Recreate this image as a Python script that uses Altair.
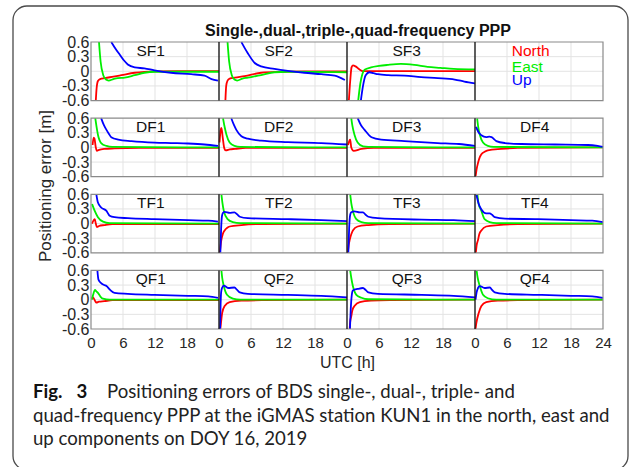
import altair as alt
import pandas as pd

# ---------------------------------------------------------------- text
TITLE = "Single-,dual-,triple-,quad-frequency PPP"
Y_TITLE = "Positioning error [m]"
X_TITLE = "UTC [h]"
CAPTION_BOLD = "Fig.\u20033"
CAPTION_LINES = [
    "Positioning errors of BDS single-, dual-, triple- and",
    "quad-frequency PPP at the iGMAS station KUN1 in the north, east and",
    "up components on DOY 16, 2019",
]

COMPONENTS = ["North", "East", "Up"]
COLORS = ["#ff0000", "#00ee00", "#0000ff"]
ROW_NAMES = ["SF", "DF", "TF", "QF"]
Y_TICKS = [-0.6, -0.3, 0, 0.3, 0.6]
X_TICKS = list(range(0, 97, 6))
ROW_PITCH = 1.56  # vertical distance between stacked rows on the shared y scale

# ---------------------------------------------------------------- series
# (hour of day, error in m) samples, North / East / Up for each solution
SF1_N = [(0.9, -0.6), (1.05, -0.35), (1.3, -0.2), (1.7, -0.16), (2.6, -0.14), (4.2, -0.11),
         (5.7, -0.08), (8.2, -0.03), (10, -0.01), (12, 0.0), (18, 0.005), (24, 0.005)]
SF1_E = [(1.5, 0.6), (1.8, 0.2), (2.3, -0.08), (2.8, -0.17), (3.3, -0.19), (4.2, -0.16), (5, -0.14),
         (6.3, -0.13), (8.2, -0.08), (10, -0.03), (12, -0.01), (16, -0.01), (24, -0.01)]
SF1_U = [(3.8, 0.6), (4.6, 0.46), (5.4, 0.34), (6.2, 0.22), (6.9, 0.14), (8.2, 0.08), (10, 0.06),
         (11.9, 0.02), (15, -0.03), (18.8, -0.06), (21.3, -0.09), (22.6, -0.16), (23.8, -0.19)]

SF2_N = [(1.2, -0.6), (1.35, -0.3), (1.6, -0.19), (2, -0.15), (3, -0.13), (4.8, -0.1), (7.9, -0.03),
         (11.7, -0.01), (16, 0.0), (24, 0.0)]
SF2_E = [(1.6, 0.6), (1.9, 0.2), (2.4, -0.08), (2.9, -0.17), (3.4, -0.19), (4.4, -0.15), (5.4, -0.13),
         (7.9, -0.08), (10.4, -0.02), (12.9, -0.01), (24, -0.02)]
SF2_U = [(4.2, 0.6), (4.8, 0.48), (5.4, 0.37), (6.7, 0.17), (7.9, 0.1), (10.4, 0.05), (12.9, 0.01),
         (16, -0.03), (19.2, -0.06), (21.7, -0.09), (23.6, -0.18)]

SF3_N = [(0.35, -0.6), (0.6, -0.2), (0.85, 0.08), (1.1, 0.12), (1.6, 0.1), (2.3, 0.04), (3, 0.005),
         (24, 0.005)]
SF3_E = [(2.1, -0.6), (2.5, -0.25), (2.9, -0.05), (3.3, 0.03), (4.5, 0.08), (6, 0.11), (7.6, 0.13),
         (10.1, 0.15), (12.6, 0.13), (15.1, 0.09), (17.5, 0.07), (20, 0.05), (24, 0.04)]
SF3_U = [(2.6, -0.6), (3, -0.3), (3.5, -0.08), (4.2, -0.02), (5, -0.04), (5.8, -0.06), (7.7, -0.08),
         (10.8, -0.09), (13.9, -0.12), (17, -0.14), (20.2, -0.17), (22, -0.21), (24, -0.25)]

DF1_N = [(0.3, 0.05), (0.5, 0.2), (0.65, 0.18), (0.9, 0.0), (1.1, -0.07), (1.5, -0.05), (2.5, -0.03),
         (4.4, -0.02), (9, -0.01), (24, -0.01)]
DF1_E = [(0.8, 0.6), (1.0, 0.45), (1.3, 0.26), (1.9, 0.09), (2.9, 0.03), (4, 0.01), (24, 0.0)]
DF1_U = [(1.9, 0.6), (2.4, 0.46), (2.9, 0.36), (3.4, 0.27), (3.8, 0.21), (5.1, 0.16), (7.6, 0.13),
         (11.9, 0.1), (15, 0.09), (18.2, 0.08), (21.3, 0.06), (23.8, 0.03)]

DF2_N = [(0.1, 0.1), (0.3, 0.35), (0.45, 0.4), (0.7, 0.2), (1.0, -0.02), (1.25, -0.06), (2, -0.04),
         (3, -0.03), (5, -0.01), (24, -0.01)]
DF2_E = [(0.75, 0.6), (1.0, 0.45), (1.4, 0.26), (2, 0.1), (2.9, 0.03), (4, 0.01), (24, 0.0)]
DF2_U = [(2.3, 0.6), (2.8, 0.46), (3.25, 0.36), (4.2, 0.23), (5.4, 0.18), (7.9, 0.14), (12.9, 0.11),
         (19.2, 0.09), (24, 0.06)]

DF3_N = [(0.2, 0.05), (0.45, 0.14), (0.6, 0.16), (0.8, 0.0), (1.25, -0.07), (2.7, -0.03), (5, -0.01),
         (24, -0.01)]
DF3_E = [(0.8, 0.6), (1.0, 0.45), (1.4, 0.26), (2, 0.1), (3, 0.02), (4, 0.01), (24, 0.0)]
DF3_U = [(2.0, 0.6), (2.6, 0.46), (3.3, 0.36), (4.6, 0.21), (6.4, 0.16), (10.8, 0.13), (17, 0.09),
         (21, 0.07), (24, 0.03)]

DF4_N = [(0.1, -0.6), (0.3, -0.45), (0.56, -0.32), (0.9, -0.2), (1.2, -0.14), (1.8, -0.09), (2.4, -0.06),
         (4.9, -0.03), (8, -0.01), (24, 0.0)]
DF4_E = [(0.4, 0.6), (0.6, 0.42), (0.9, 0.26), (1.5, 0.1), (2.4, 0.03), (3.5, 0.01), (24, 0.0)]
DF4_U = [(0.2, 0.42), (0.6, 0.32), (1.2, 0.25), (2.1, 0.21), (2.7, 0.22), (3.1, 0.21), (4.0, 0.13),
         (5.6, 0.09), (8.7, 0.07), (15, 0.06), (21.2, 0.05), (23, 0.03), (24, 0.01)]

TF1_N = [(0.2, 0.0), (0.45, 0.06), (0.7, 0.09), (0.9, 0.0), (1.1, -0.07), (1.5, -0.05), (2.5, -0.03),
         (4, -0.01), (24, -0.01)]
TF1_E = [(0.2, 0.4), (0.7, 0.26), (1.3, 0.13), (2.25, 0.04), (3.5, 0.01), (24, 0.0)]
TF1_U = [(1.0, 0.6), (1.3, 0.43), (1.9, 0.33), (2.9, 0.26), (3.5, 0.16), (4.4, 0.13), (6.9, 0.11),
         (11.9, 0.09), (18.2, 0.07), (22, 0.06), (23.8, 0.04)]

TF2_N = [(0.15, -0.6), (0.3, -0.45), (0.44, -0.34), (0.7, -0.22), (1.06, -0.14), (1.5, -0.09), (2, -0.06),
         (4.2, -0.03), (7.8, -0.01), (24, 0.0)]
TF2_E = [(0.45, 0.6), (0.65, 0.42), (0.9, 0.26), (1.6, 0.09), (2.6, 0.03), (4, 0.01), (24, 0.0)]
TF2_U = [(0.25, -0.6), (0.4, -0.1), (0.55, 0.15), (0.75, 0.22), (1.06, 0.24), (2, 0.22), (2.9, 0.23),
         (3.4, 0.19), (3.9, 0.14), (5.4, 0.11), (12.9, 0.09), (19.2, 0.07), (24, 0.05)]

TF3_N = [(0.15, -0.6), (0.3, -0.45), (0.5, -0.34), (0.8, -0.22), (1.1, -0.14), (2, -0.06), (4, -0.03),
         (8, -0.01), (24, 0.0)]
TF3_E = [(0.6, 0.6), (0.8, 0.42), (1.1, 0.26), (1.75, 0.09), (2.7, 0.03), (4, 0.01), (24, 0.0)]
TF3_U = [(0.25, -0.6), (0.4, -0.1), (0.6, 0.18), (0.8, 0.23), (1.4, 0.25), (2.4, 0.23), (3.0, 0.23),
         (3.5, 0.18), (4.0, 0.14), (5.8, 0.11), (14, 0.08), (20, 0.07), (24, 0.05)]

TF4_N = [(0.15, -0.6), (0.3, -0.45), (0.56, -0.34), (0.8, -0.22), (1.2, -0.14), (2.1, -0.06), (4.3, -0.03),
         (8, -0.01), (24, 0.0)]
TF4_E = [(0.45, 0.6), (0.65, 0.42), (1.2, 0.26), (1.8, 0.09), (2.75, 0.03), (4, 0.01), (24, 0.0)]
TF4_U = [(0.25, 0.6), (0.7, 0.4), (1.2, 0.29), (2.1, 0.21), (2.75, 0.21), (3.2, 0.18), (3.7, 0.13),
         (5.6, 0.1), (11.8, 0.09), (18, 0.07), (22, 0.06), (24, 0.03)]

QF1_N = [(0.15, 0.02), (0.3, 0.05), (0.5, 0.03), (0.8, -0.03), (1.0, -0.06), (1.5, -0.04), (2.5, -0.03),
         (4, -0.01), (24, -0.01)]
QF1_E = [(0.15, 0.0), (0.4, 0.1), (0.75, 0.2), (1.0, 0.17), (1.3, 0.14), (1.8, 0.06), (2.25, 0.02),
         (3.5, 0.0), (24, 0.0)]
QF1_U = [(1.2, 0.6), (1.4, 0.41), (1.9, 0.34), (2.5, 0.3), (2.9, 0.28), (3.5, 0.21), (4.4, 0.14),
         (6.9, 0.12), (11.9, 0.1), (18.2, 0.08), (22, 0.07), (23.8, 0.04)]

QF2_N = [(0.25, -0.6), (0.35, -0.5), (0.6, -0.27), (1.06, -0.13), (2, -0.05), (4.2, -0.02), (8, -0.01),
         (24, 0.0)]
QF2_E = [(0.45, 0.6), (0.6, 0.45), (0.9, 0.28), (1.5, 0.1), (2.6, 0.02), (4, 0.0), (24, 0.0)]
QF2_U = [(0.2, -0.6), (0.3, -0.1), (0.4, 0.15), (0.56, 0.24), (0.9, 0.29), (1.7, 0.24), (2.9, 0.25),
         (3.4, 0.2), (3.9, 0.15), (5.4, 0.12), (12.9, 0.1), (19.2, 0.08), (24, 0.05)]

QF3_N = [(0.5, -0.6), (0.6, -0.45), (0.8, -0.34), (1.0, -0.22), (1.4, -0.13), (2.4, -0.05), (4.5, -0.02),
         (8, -0.01), (24, 0.0)]
QF3_E = [(0.6, 0.6), (0.8, 0.45), (1.1, 0.28), (1.75, 0.1), (2.7, 0.04), (4, 0.01), (24, 0.0)]
QF3_U = [(0.55, -0.6), (0.7, -0.2), (0.9, 0.1), (1.1, 0.19), (2, 0.22), (3, 0.24), (3.5, 0.2), (4, 0.15),
         (5.8, 0.12), (14, 0.1), (20, 0.08), (24, 0.05)]

QF4_N = [(0.1, -0.6), (0.25, -0.48), (0.7, -0.27), (1.2, -0.13), (2.1, -0.05), (4.3, -0.02), (8, -0.01),
         (24, 0.0)]
QF4_E = [(0.3, 0.6), (0.5, 0.45), (0.9, 0.28), (1.5, 0.1), (2.4, 0.03), (4, 0.0), (24, 0.0)]
QF4_U = [(0.1, 0.0), (0.3, 0.15), (0.56, 0.24), (0.9, 0.28), (1.8, 0.24), (2.8, 0.25), (3.2, 0.2),
         (3.7, 0.15), (5.6, 0.12), (11.8, 0.1), (18, 0.08), (22, 0.07), (24, 0.04)]

PANELS = {
    "SF1": (SF1_N, SF1_E, SF1_U), "SF2": (SF2_N, SF2_E, SF2_U), "SF3": (SF3_N, SF3_E, SF3_U),
    "DF1": (DF1_N, DF1_E, DF1_U), "DF2": (DF2_N, DF2_E, DF2_U),
    "DF3": (DF3_N, DF3_E, DF3_U), "DF4": (DF4_N, DF4_E, DF4_U),
    "TF1": (TF1_N, TF1_E, TF1_U), "TF2": (TF2_N, TF2_E, TF2_U),
    "TF3": (TF3_N, TF3_E, TF3_U), "TF4": (TF4_N, TF4_E, TF4_U),
    "QF1": (QF1_N, QF1_E, QF1_U), "QF2": (QF2_N, QF2_E, QF2_U),
    "QF3": (QF3_N, QF3_E, QF3_U), "QF4": (QF4_N, QF4_E, QF4_U),
}

LABEL_HOUR = 11.2      # where each panel name sits within its 24 h block
LABEL_LEVEL = 0.42
LEGEND_HOUR = 78.9
LEGEND_LEVELS = [0.42, 0.08, -0.18]


def row_offset(r):
    return round((3 - r) * ROW_PITCH, 3)


def place(name):
    return ROW_NAMES.index(name[:2]), int(name[2:]) - 1


# ---------------------------------------------------------------- tables
line_rows = []
for ci, comp in enumerate(COMPONENTS):
    for name, series in PANELS.items():
        r, c = place(name)
        for i, (t, v) in enumerate(series[ci]):
            line_rows.append({"panel": name, "comp": comp, "x": t + 24 * c,
                              "y": v + row_offset(r), "order": i})
lines_df = pd.DataFrame(line_rows)

hgrid, vgrid, seps, boxes = [], [], [], []
for r in range(4):
    off = row_offset(r)
    for k in Y_TICKS[1:-1]:
        hgrid.append({"x": 0, "x2": 96, "y": off + k})
    for t in X_TICKS:
        if t % 24 != 0:
            vgrid.append({"x": t, "y": off - 0.6, "y2": off + 0.6})
    for t in (24, 48, 72):
        seps.append({"x": t, "y": off - 0.6, "y2": off + 0.6})
    boxes.append({"x": 0, "x2": 96, "y": off - 0.6, "y2": off + 0.6})

labels_df = pd.DataFrame([
    {"x": LABEL_HOUR + 24 * place(n)[1], "y": LABEL_LEVEL + row_offset(place(n)[0]), "text": n}
    for n in PANELS
])
legend_df = pd.DataFrame([
    {"x": LEGEND_HOUR, "y": lv + row_offset(0), "comp": comp, "text": comp}
    for comp, lv in zip(COMPONENTS, LEGEND_LEVELS)
])

Y_MIN = -0.6
Y_MAX = round(row_offset(0) + 0.6, 3)
Y_AXIS_VALUES = [min(max(round(k + row_offset(r), 3), Y_MIN), Y_MAX)
                 for r in range(4) for k in Y_TICKS]
LOCAL = f"(datum.value - {ROW_PITCH}*round(datum.value/{ROW_PITCH}))"
Y_LABEL_EXPR = (f"abs({LOCAL}) < 0.01 ? '0' : (({LOCAL}) < 0 ? '-' : '') + "
                f"toString(round(abs({LOCAL})*10)/10)")
X_LABEL_EXPR = "datum.value == 96 ? '24' : toString(datum.value % 24)"

FONT = "Liberation Sans"
INK = "#262626"

x_enc = alt.X("x:Q", scale=alt.Scale(domain=[0, 96], nice=False, zero=False),
              axis=alt.Axis(values=X_TICKS, labelExpr=X_LABEL_EXPR, title=X_TITLE,
                            grid=False, domain=False, ticks=False, labelFlush=False,
                            labelOverlap=False, labelFont=FONT, labelFontSize=15,
                            labelColor=INK, labelPadding=6, titleFont=FONT,
                            titleFontSize=16, titleFontWeight="normal", titleColor=INK,
                            titlePadding=4))
y_enc = alt.Y("y:Q", scale=alt.Scale(domain=[Y_MIN, Y_MAX], nice=False, zero=False),
              axis=alt.Axis(values=Y_AXIS_VALUES, labelExpr=Y_LABEL_EXPR, title=Y_TITLE,
                            grid=False, domain=False, ticks=False, labelFlush=False,
                            labelOverlap=False, labelFont=FONT, labelFontSize=16,
                            labelColor=INK, labelPadding=2, titleFont=FONT,
                            titleFontSize=17, titleFontWeight="normal", titleColor=INK,
                            titleAngle=270, titleX=-41, titleY=143.5,
                            titleAlign="center", titleBaseline="alphabetic"))
color_enc = alt.Color("comp:N", scale=alt.Scale(domain=COMPONENTS, range=COLORS), legend=None)

grid_h = alt.Chart(pd.DataFrame(hgrid)).mark_rule(color="#e3e3e3", strokeWidth=1).encode(
    x=x_enc, x2="x2:Q", y=y_enc)
grid_v = alt.Chart(pd.DataFrame(vgrid)).mark_rule(color="#e3e3e3", strokeWidth=1).encode(
    x=x_enc, y=y_enc, y2="y2:Q")
frames = alt.Chart(pd.DataFrame(boxes)).mark_rect(
    fillOpacity=0, stroke="#8a8a8a", strokeWidth=1.2).encode(
    x=x_enc, x2="x2:Q", y=y_enc, y2="y2:Q")
dividers = alt.Chart(pd.DataFrame(seps)).mark_rule(color="#1a1a1a", strokeWidth=1.4).encode(
    x=x_enc, y=y_enc, y2="y2:Q")

curves = alt.Chart(lines_df).mark_line(strokeWidth=1.8, interpolate="monotone").encode(
    x=x_enc, y=y_enc, color=color_enc, detail="panel:N", order="order:Q")

panel_names = alt.Chart(labels_df).mark_text(
    font=FONT, fontSize=15.5, color="#111111", baseline="middle", align="center").encode(
    x=x_enc, y=y_enc, text="text:N")
legend_text = alt.Chart(legend_df).mark_text(
    font=FONT, fontSize=15.5, baseline="middle", align="left").encode(
    x=x_enc, y=y_enc, text="text:N", color=color_enc)

one = pd.DataFrame([{"k": 0}])
heading = alt.Chart(one).mark_text(
    text=TITLE, font=FONT, fontSize=16, fontWeight="bold", color="#111111",
    align="center", baseline="alphabetic").encode(x=alt.value(267), y=alt.value(-6))

outline = alt.Chart(one).mark_rect(
    fillOpacity=0, stroke="#4a4a4a", strokeWidth=1.3, cornerRadius=14).encode(
    x=alt.value(-78), x2=alt.value(537), y=alt.value(-36), y2=alt.value(428))

CAP_FONT = "Lato"
CAP_SIZE = 18.6
cap_bold = alt.Chart(one).mark_text(
    text=CAPTION_BOLD, font=CAP_FONT, fontSize=CAP_SIZE, fontWeight="bold", color="#111111",
    align="left", baseline="alphabetic").encode(x=alt.value(-58), y=alt.value(356))
cap_l1 = alt.Chart(one).mark_text(
    text=CAPTION_LINES[0], font=CAP_FONT, fontSize=CAP_SIZE, color="#222222",
    align="left", baseline="alphabetic").encode(x=alt.value(16), y=alt.value(356))
cap_l2 = alt.Chart(one).mark_text(
    text=CAPTION_LINES[1], font=CAP_FONT, fontSize=CAP_SIZE, color="#222222",
    align="left", baseline="alphabetic").encode(x=alt.value(-58), y=alt.value(379.5))
cap_l3 = alt.Chart(one).mark_text(
    text=CAPTION_LINES[2], font=CAP_FONT, fontSize=CAP_SIZE, color="#222222",
    align="left", baseline="alphabetic").encode(x=alt.value(-58), y=alt.value(403))

chart = alt.layer(
    grid_h, grid_v, curves, frames, dividers, panel_names, legend_text,
    heading, outline, cap_bold, cap_l1, cap_l2, cap_l3,
).properties(
    width=512, height=287,
    autosize=alt.AutoSizeParams(type="none"),
    padding={"left": 91, "top": 42, "right": 31, "bottom": 138},
    background="white",
).configure_view(strokeWidth=0)

chart.save("out.html", embed_options={"renderer": "svg", "actions": False})
